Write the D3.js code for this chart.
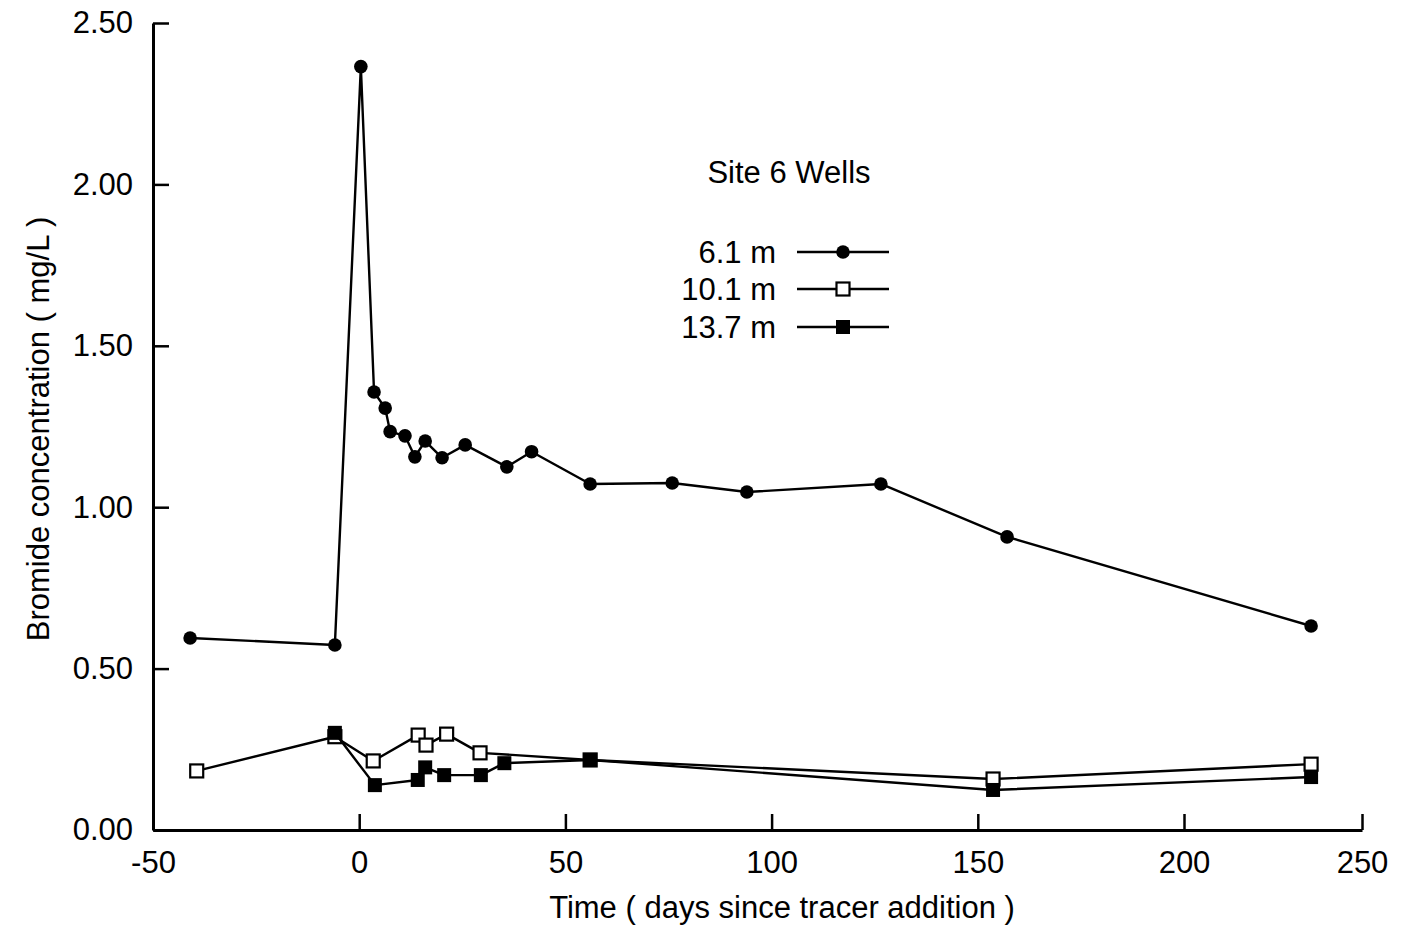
<html>
<head>
<meta charset="utf-8">
<title>Bromide concentration</title>
<script src="https://cdn.jsdelivr.net/npm/d3@7"></script>
<style>
  body { margin: 0; background: #fff; }
  text { font-family: "Liberation Sans", Arial, Helvetica, sans-serif; fill: #000; }
</style>
</head>
<body>
<svg id="chart" width="1404" height="931"></svg>
<script>
// values
const well61Days = [-41.0, -5.9, 0.4, 3.6, 6.3, 7.5, 11.1, 13.5, 16.0, 20.1, 25.7, 35.8, 41.8, 56.0, 75.9, 94.0, 126.5, 157.1, 235.7];
const well61Conc = [0.595, 0.573, 2.365, 1.357, 1.307, 1.234, 1.221, 1.156, 1.205, 1.153, 1.193, 1.125, 1.172, 1.072, 1.075, 1.047, 1.072, 0.908, 0.632];

const well101Days = [-39.4, -5.9, 3.4, 14.3, 16.2, 21.2, 29.3, 56.0, 153.7, 235.7];
const well101Conc = [0.183, 0.289, 0.214, 0.294, 0.263, 0.297, 0.239, 0.217, 0.158, 0.204];

const well137Days = [-5.9, 3.8, 14.2, 16.0, 20.6, 29.5, 35.2, 56.0, 153.7, 235.7];
const well137Conc = [0.301, 0.139, 0.155, 0.194, 0.170, 0.170, 0.207, 0.217, 0.124, 0.164];

const xTicks = [-50, 0, 50, 100, 150, 200, 250];
const yTicks = [0, 0.5, 1.0, 1.5, 2.0, 2.5];
const legendLabels = ["6.1 m", "10.1 m", "13.7 m"];

const svg = d3.select("#chart");
const fontSize = 31;

// the printed axis is slightly compressed between 200 and 250
const x = d3.scaleLinear().domain([-50, 200, 250]).range([153, 1184, 1362]);
const y = d3.scaleLinear().domain([0, 2.5]).range([830, 23]);

const zip = (a, b) => a.map((d, i) => ({ x: d, y: b[i] }));
const s61 = zip(well61Days, well61Conc);
const s101 = zip(well101Days, well101Conc);
const s137 = zip(well137Days, well137Conc);

// axes, ticks point inward
const xAxis = d3.axisBottom(x).tickValues(xTicks).tickSizeInner(-16).tickSizeOuter(0).tickPadding(21).tickFormat(d => String(d));
const yAxis = d3.axisLeft(y).tickValues(yTicks).tickSizeInner(-16).tickSizeOuter(0).tickPadding(20).tickFormat(d3.format(".2f"));

const gx = svg.append("g").attr("transform", "translate(0,830)").call(xAxis);
const gy = svg.append("g").attr("transform", "translate(153,0)").call(yAxis);

[gx, gy].forEach(g => {
  g.select(".domain").attr("stroke", "#000").attr("stroke-width", 3);
  g.selectAll(".tick line").attr("stroke", "#000").attr("stroke-width", 2.5);
  g.selectAll(".tick text").attr("font-size", fontSize).attr("font-family", null).attr("fill", "#000");
});

svg.append("text")
  .attr("x", 782).attr("y", 918)
  .attr("text-anchor", "middle")
  .attr("font-size", fontSize)
  .text("Time ( days since tracer addition )");

svg.append("text")
  .attr("transform", "translate(49,429) rotate(-90)")
  .attr("text-anchor", "middle")
  .attr("font-size", fontSize)
  .text("Bromide concentration ( mg/L )");

// lines
const line = d3.line().x(d => x(d.x)).y(d => y(d.y));

function drawSeries(data, kind) {
  svg.append("path").datum(data)
    .attr("d", line)
    .attr("fill", "none")
    .attr("stroke", "#000")
    .attr("stroke-width", 2.4)
    .attr("stroke-linejoin", "round");
  drawMarkers(svg, data.map(d => [x(d.x), y(d.y)]), kind);
}

function drawMarkers(g, pts, kind) {
  if (kind === "circle") {
    g.selectAll(null).data(pts).join("circle")
      .attr("cx", d => d[0]).attr("cy", d => d[1]).attr("r", 6.8)
      .attr("fill", "#000");
  } else {
    const open = kind === "open";
    const s = open ? 13 : 14;
    g.selectAll(null).data(pts).join("rect")
      .attr("x", d => d[0] - s / 2).attr("y", d => d[1] - s / 2)
      .attr("width", s).attr("height", s)
      .attr("fill", open ? "#fff" : "#000")
      .attr("stroke", "#000")
      .attr("stroke-width", open ? 2.2 : 0);
  }
}

drawSeries(s101, "open");
drawSeries(s137, "filled");
drawSeries(s61, "circle");

// legend
svg.append("text")
  .attr("x", 789).attr("y", 183)
  .attr("text-anchor", "middle")
  .attr("font-size", fontSize)
  .text("Site 6 Wells");

const kinds = ["circle", "open", "filled"];
const legendY = [252, 289, 327];
legendLabels.forEach((lab, i) => {
  const ly = legendY[i];
  svg.append("text")
    .attr("x", 776).attr("y", ly + 11)
    .attr("text-anchor", "end")
    .attr("font-size", fontSize)
    .text(lab);
  svg.append("line")
    .attr("x1", 797).attr("x2", 889).attr("y1", ly).attr("y2", ly)
    .attr("stroke", "#000").attr("stroke-width", 2.4);
  drawMarkers(svg.append("g"), [[843, ly]], kinds[i]);
});
</script>
</body>
</html>
